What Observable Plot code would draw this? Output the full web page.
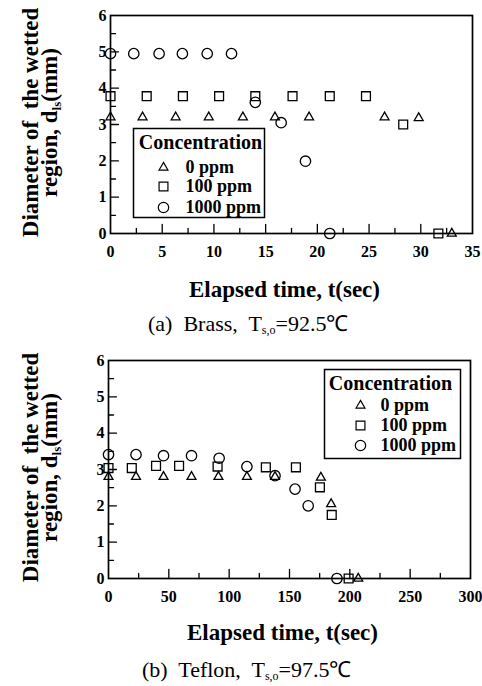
<!DOCTYPE html>
<html><head><meta charset="utf-8">
<script src="https://cdn.jsdelivr.net/npm/d3@7"></script>
<script src="https://cdn.jsdelivr.net/npm/@observablehq/plot@0.6"></script>
<style>
body{margin:0;background:#fff;width:482px;height:686px;overflow:hidden;font-family:"Liberation Serif",serif;color:#000;}
.cap{font-size:22px;white-space:pre;}
.cap sub{font-size:12px;vertical-align:-3px;line-height:0;}
#capA{height:36px;line-height:36px;padding-left:148px;}
#capB{height:36px;line-height:40px;padding-left:142px;}
svg{display:block;}
svg text{font-family:"Liberation Serif",serif;}
</style></head><body>
<div id="a"></div>
<div class="cap" id="capA">(a)  Brass,  T<sub>s,o</sub>=92.5℃</div>
<div id="b"></div>
<div class="cap" id="capB">(b)  Teflon,  T<sub>s,o</sub>=97.5℃</div>
<script>
// ---- data ----
const concentrations = ["0 ppm", "100 ppm", "1000 ppm"];
const symbols = ["triangle", "square", "circle"];

const brassTime0 = [0, 3.1, 6.3, 9.5, 12.8, 15.9, 19.2, 26.5, 29.8, 33.0];
const brassD0 = [3.2, 3.2, 3.2, 3.2, 3.2, 3.2, 3.2, 3.2, 3.18, 0];
const brassTime100 = [0, 3.5, 7.0, 10.5, 14.0, 17.6, 21.2, 24.7, 28.3, 31.7];
const brassD100 = [3.78, 3.78, 3.78, 3.78, 3.78, 3.78, 3.78, 3.78, 3.0, 0];
const brassTime1000 = [0, 2.25, 4.7, 6.95, 9.35, 11.7, 14.0, 16.5, 18.85, 21.2];
const brassD1000 = [4.95, 4.95, 4.95, 4.95, 4.95, 4.95, 3.61, 3.05, 1.99, 0];

const teflonTime0 = [0, 22.8, 45.6, 68.8, 91.1, 114.7, 138, 176, 184.5, 207];
const teflonD0 = [2.8, 2.8, 2.8, 2.8, 2.8, 2.8, 2.8, 2.78, 2.05, 0];
const teflonTime100 = [0, 19.3, 39.4, 58.5, 90.4, 130.4, 155.3, 175.2, 185, 199];
const teflonD100 = [3.04, 3.04, 3.1, 3.1, 3.08, 3.06, 3.06, 2.51, 1.75, 0];
const teflonTime1000 = [0, 22.8, 45.6, 68.8, 91.7, 114.7, 138, 154.6, 165.5, 189.3];
const teflonD1000 = [3.41, 3.41, 3.38, 3.38, 3.31, 3.08, 2.83, 2.46, 2.0, 0];

const yTickLabels = [0, 1, 2, 3, 4, 5, 6];
const yMajorTicks = [1, 2, 3, 4, 5];
const yMinorTicks = [0.5, 1.5, 2.5, 3.5, 4.5, 5.5];
const brassXTickLabels = [0, 5, 10, 15, 20, 25, 30, 35];
const brassXMajorTicks = [5, 10, 15, 20, 25, 30];
const brassXMinorTicks = [2.5, 7.5, 12.5, 17.5, 22.5, 27.5, 32.5];
const teflonXTickLabels = [0, 50, 100, 150, 200, 250, 300];
const teflonXMajorTicks = [50, 100, 150, 200, 250];
const teflonXMinorTicks = [25, 75, 125, 175, 225, 275];

const yTitle1 = "Diameter of  the wetted";
const yTitle2 = "region, dls(mm)";
const xTitle = "Elapsed time, t(sec)";
const legendTitle = "Concentration";

function rowsOf(times, values, c) { return times.map((t, i) => ({t, d: values[i], c})); }

const FONT = "Liberation Serif";
const tickShape = {draw(ctx, l) { ctx.moveTo(0, 0); ctx.lineTo(0, -l); }};
const symR = {triangle: 3.3, square: 5.0, circle: 5.2};

function chart(o) {
  const series = [
    rowsOf(o.t0, o.d0, concentrations[0]),
    rowsOf(o.t1, o.d1, concentrations[1]),
    rowsOf(o.t2, o.d2, concentrations[2])
  ];
  const W = 482;
  const txt = {fontFamily: FONT, fontWeight: "bold", fill: "#000"};
  const marks = [
    Plot.frame({stroke: "#000", strokeWidth: 1.7}),
    Plot.vector(yMajorTicks, {y: d => d, frameAnchor: "left", rotate: 90, length: 8, anchor: "start", shape: tickShape, stroke: "#000", strokeWidth: 1.3}),
    Plot.vector(yMinorTicks, {y: d => d, frameAnchor: "left", rotate: 90, length: 5, anchor: "start", shape: tickShape, stroke: "#000", strokeWidth: 1.3}),
    Plot.vector(o.xMajor, {x: d => d, frameAnchor: "bottom", rotate: 0, length: 9, anchor: "start", shape: tickShape, stroke: "#000", strokeWidth: 1.3}),
    Plot.vector(o.xMinor, {x: d => d, frameAnchor: "bottom", rotate: 0, length: 5, anchor: "start", shape: tickShape, stroke: "#000", strokeWidth: 1.3}),
    Plot.axisY({ticks: yTickLabels, tickFormat: d => String(d), tickSize: 0, tickPadding: 4, label: null, fontSize: 16, ...txt}),
    Plot.axisX({ticks: o.xLabels, tickFormat: d => String(d), tickSize: 0, tickPadding: 12, label: null, fontSize: 16, ...txt}),
  ];
  series.forEach((rows, i) => {
    marks.push(Plot.dot(rows, {x: "t", y: "d", symbol: () => symbols[i], r: symR[symbols[i]], stroke: "#000", strokeWidth: 1.3, fill: "none"}));
  });
  // legend (positioned in screen space inside the frame)
  const L = o.legend;
  marks.push(Plot.frame({insetLeft: L.left, insetTop: L.top, insetRight: L.right, insetBottom: L.bottom, fill: "#fff", stroke: "#000", strokeWidth: 1.5}));
  marks.push(Plot.text([legendTitle], {text: d => d, frameAnchor: "top-left", dx: L.titleX, dy: L.titleY, textAnchor: "middle", lineAnchor: "middle", fontSize: 20, ...txt}));
  concentrations.forEach((c, i) => {
    marks.push(Plot.dot([c], {frameAnchor: "top-left", dx: L.symX, dy: L.rowY[i], symbol: symbols[i], r: symR[symbols[i]], stroke: "#000", strokeWidth: 1.2, fill: "none"}));
    marks.push(Plot.text([c], {text: d => d, frameAnchor: "top-left", dx: L.textX, dy: L.rowY[i], textAnchor: "start", lineAnchor: "middle", fontSize: 18, ...txt}));
  });
  // axis titles
  marks.push(Plot.text([xTitle], {text: d => d, frameAnchor: "bottom", dx: o.xTitleDx, dy: o.xTitleDy, textAnchor: "middle", lineAnchor: "middle", fontSize: 23, ...txt}));
  marks.push(Plot.text([yTitle1], {text: d => d, frameAnchor: "left", rotate: -90, dx: o.yT1dx, dy: o.yTdy, textAnchor: "middle", lineAnchor: "middle", fontSize: 23, ...txt}));
  marks.push(Plot.text([yTitle2], {text: d => d, frameAnchor: "left", rotate: -90, dx: o.yT2dx, dy: o.yTdy, textAnchor: "middle", lineAnchor: "middle", fontSize: 23, ...txt}));

  const svg = Plot.plot({
    width: W, height: o.height,
    marginTop: o.mt, marginRight: o.mr, marginBottom: o.mb, marginLeft: o.ml,
    style: {fontFamily: FONT, fontWeight: "bold", fontSize: "16px", color: "#000", background: "#fff", overflow: "visible"},
    x: {domain: o.xDomain},
    y: {domain: [0, 6]},
    marks
  });
  d3.select(svg).selectAll("text").filter(function() { return this.textContent === yTitle2; })
    .each(function() {
      const t = d3.select(this);
      t.text(null);
      t.append("tspan").text("region, d");
      t.append("tspan").attr("dy", 4).attr("font-size", 13).text("ls");
      t.append("tspan").attr("dy", -4).text("(mm)");
    });
  return svg;
}

document.getElementById("a").append(chart({
  t0: brassTime0, d0: brassD0, t1: brassTime100, d1: brassD100, t2: brassTime1000, d2: brassD1000,
  xDomain: [0, 35], xLabels: brassXTickLabels, xMajor: brassXMajorTicks, xMinor: brassXMinorTicks,
  height: 306, mt: 15, mr: 10, mb: 73, ml: 110,
  xTitleDx: -7, xTitleDy: 56, yT1dx: -80, yT2dx: -61, yTdy: -2,
  legend: {left: 23, top: 113, right: 208, bottom: 16, titleX: 90, titleY: 127, symX: 53, textX: 75, rowY: [152, 171, 192]}
}));
document.getElementById("b").append(chart({
  t0: teflonTime0, d0: teflonD0, t1: teflonTime100, d1: teflonD100, t2: teflonTime1000, d2: teflonD1000,
  xDomain: [0, 300], xLabels: teflonXTickLabels, xMajor: teflonXMajorTicks, xMinor: teflonXMinorTicks,
  height: 308, mt: 18, mr: 12, mb: 72, ml: 108,
  xTitleDx: -7, xTitleDy: 54, yT1dx: -78, yT2dx: -59, yTdy: -2,
  legend: {left: 216, top: 9, right: 10, bottom: 120, titleX: 282, titleY: 23, symX: 252, textX: 272, rowY: [45, 65, 85]}
}));
</script>
</body></html>
